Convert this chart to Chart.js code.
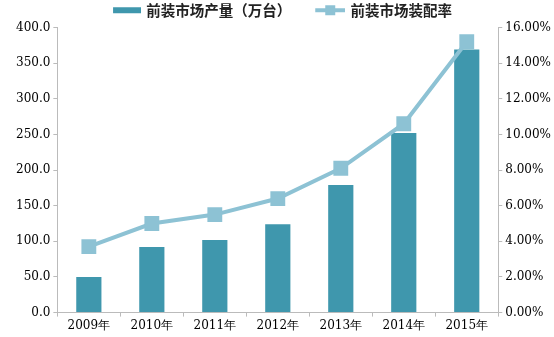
<!DOCTYPE html>
<html>
<head>
<meta charset="utf-8">
<script src="https://cdn.jsdelivr.net/npm/chart.js@4/dist/chart.umd.min.js"></script>
<style>
  html, body { margin: 0; padding: 0; background: #fff; }
  #wrap { width: 554px; height: 337px; }
</style>
</head>
<body>
<div id="wrap"><canvas id="grafico"></canvas></div>
<script>
const anos = ['2009年', '2010年', '2011年', '2012年', '2013年', '2014年', '2015年'];
const producao = [50, 92, 102, 124, 179, 252, 369];
const taxa = [3.7, 5.0, 5.5, 6.4, 8.1, 10.6, 15.2];
const ticksEsq = [0, 50, 100, 150, 200, 250, 300, 350, 400];
const ticksDir = [0, 2, 4, 6, 8, 10, 12, 14, 16];

const corBarra = '#3f97ad';
const corLinha = '#8dc2d4';
const corEixo = '#bbb';
const fonteTick = { family: 'DejaVu Serif', size: 12 };

// icones da legenda, com margem transparente a esquerda para separar os itens
function iconeBarra() {
  const c = document.createElement('canvas');
  c.width = 54; c.height = 8;
  const ctx = c.getContext('2d');
  ctx.fillStyle = corBarra;
  ctx.fillRect(26, 1, 28, 6);
  return c;
}

function iconeLinha() {
  const c = document.createElement('canvas');
  c.width = 54; c.height = 12;
  const ctx = c.getContext('2d');
  ctx.strokeStyle = corLinha;
  ctx.lineWidth = 4;
  ctx.beginPath();
  ctx.moveTo(24, 6); ctx.lineTo(54, 6);
  ctx.stroke();
  ctx.fillStyle = corLinha;
  ctx.fillRect(34, 1, 10, 10);
  return c;
}

// puxa a legenda para a esquerda (a margem do primeiro icone a empurra)
const deslocaLegenda = {
  id: 'deslocaLegenda',
  afterLayout(chart) {
    chart.legend.left -= 13;
    chart.legend.right -= 13;
  }
};

const grafico = new Chart(document.getElementById('grafico'), {
  type: 'bar',
  data: {
    labels: anos,
    datasets: [{
      type: 'line',
      label: '前装市场装配率',
      data: taxa,
      yAxisID: 'y2',
      borderColor: corLinha,
      backgroundColor: corLinha,
      borderWidth: 4,
      pointStyle: 'rect',
      pointRadius: 10.5,
      pointBackgroundColor: corLinha,
      pointBorderWidth: 0,
      tension: 0,
      order: 0
    }, {
      label: '前装市场产量（万台）',
      data: producao,
      yAxisID: 'y',
      backgroundColor: corBarra,
      categoryPercentage: 1,
      barPercentage: 0.4,
      order: 1
    }]
  },
  options: {
    responsive: true,
    maintainAspectRatio: false,
    animation: false,
    layout: { padding: { top: 1, left: 13, right: 0, bottom: 2 } },
    plugins: {
      tooltip: { enabled: false },
      legend: {
        position: 'top',
        reverse: true,
        labels: {
          usePointStyle: true,
          pointStyleWidth: 50,
          color: '#222',
          font: { family: 'Noto Sans CJK SC', size: 14.5, weight: 'bold' },
          padding: 2,
          generateLabels: (chart) => chart.data.datasets.map((ds, i) => ({
            text: ds.label,
            datasetIndex: i,
            pointStyle: ds.type === 'line' ? iconeLinha() : iconeBarra(),
            fillStyle: 'transparent',
            strokeStyle: 'transparent',
            lineWidth: 0,
            fontColor: '#222'
          }))
        }
      }
    },
    scales: {
      x: {
        grid: { display: true, offset: true, drawOnChartArea: false, drawTicks: true, tickLength: 4, color: corEixo },
        border: { color: corEixo },
        ticks: { color: '#000', font: fonteTick, padding: 2 }
      },
      y: {
        position: 'left',
        min: 0, max: 400,
        afterBuildTicks: (eixo) => { eixo.ticks = ticksEsq.map(v => ({ value: v })); },
        grid: { display: true, drawOnChartArea: false, drawTicks: true, tickLength: 4, color: corEixo },
        border: { color: corEixo },
        ticks: { color: '#000', font: fonteTick, padding: 3, callback: (v) => v.toFixed(1) }
      },
      y2: {
        position: 'right',
        min: 0, max: 16,
        afterBuildTicks: (eixo) => { eixo.ticks = ticksDir.map(v => ({ value: v })); },
        grid: { display: true, drawOnChartArea: false, drawTicks: true, tickLength: 4, color: corEixo },
        border: { color: corEixo },
        ticks: { color: '#000', font: fonteTick, padding: 3, callback: (v) => v.toFixed(2) + '%' }
      }
    }
  },
  plugins: [deslocaLegenda]
});
</script>
</body>
</html>
